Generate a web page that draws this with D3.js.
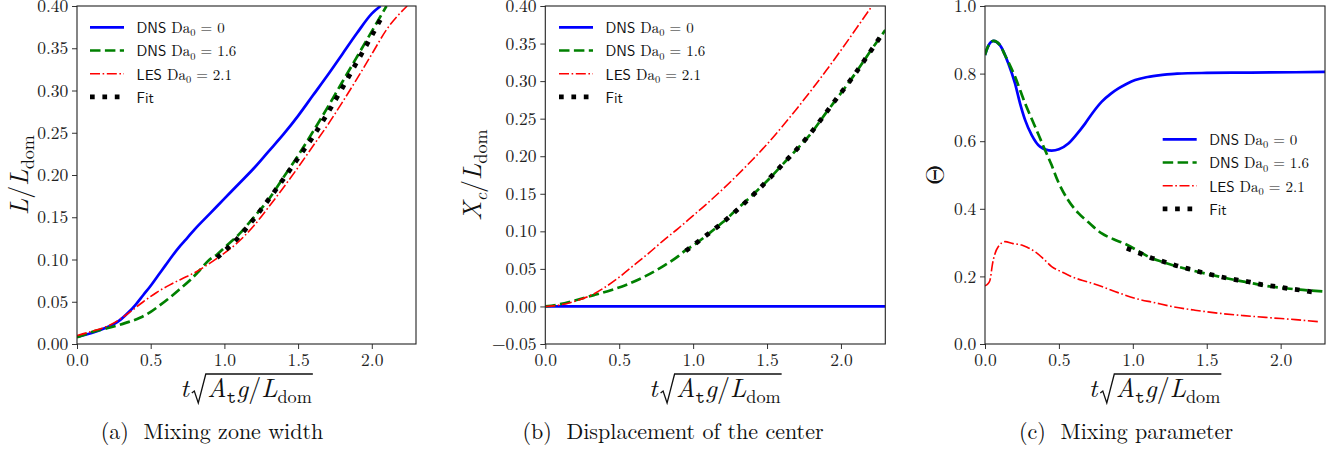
<!DOCTYPE html>
<html>
<head>
<meta charset="utf-8">
<script src="https://cdn.jsdelivr.net/npm/d3@7"></script>
<style>
  html, body { margin: 0; padding: 0; background: #fff; }
  svg { display: block; }
</style>
</head>
<body>
<svg id="fig" width="1338" height="449"></svg>
<script>
// ---- values ----
// time axis, t*sqrt(At g / Ldom)
const tTicks = [0, 0.5, 1.0, 1.5, 2.0];
const widthTicks = [0, 0.05, 0.10, 0.15, 0.20, 0.25, 0.30, 0.35, 0.40];
const centerTicks = [-0.05, 0, 0.05, 0.10, 0.15, 0.20, 0.25, 0.30, 0.35, 0.40];
const thetaTicks = [0, 0.2, 0.4, 0.6, 0.8, 1.0];

const seriesNames = ["DNS0", "DNS16", "LES21", "Fit"];
const captions = ["(a)  Mixing zone width", "(b)  Displacement of the center", "(c)  Mixing parameter"];

// (a) mixing zone width L/Ldom
const widthDns0 = [[0,0.0085],[0.1,0.013],[0.2,0.0195],[0.25,0.0235],[0.3,0.0295],[0.35,0.0375],[0.4,0.047],
  [0.45,0.058],[0.5,0.069],[0.55,0.081],[0.6,0.093],[0.65,0.105],[0.7,0.116],[0.75,0.126],[0.8,0.136],
  [0.9,0.154],[1.0,0.172],[1.1,0.190],[1.2,0.208],[1.3,0.228],[1.4,0.248],[1.5,0.270],[1.6,0.294],
  [1.7,0.318],[1.8,0.343],[1.9,0.368],[2.0,0.391],[2.06,0.40]];
const widthDns16 = [[0,0.008],[0.11,0.0146],[0.224,0.0195],[0.33,0.025],[0.427,0.031],[0.5,0.038],
  [0.563,0.046],[0.63,0.055],[0.698,0.065],[0.77,0.076],[0.834,0.0876],[0.9,0.100],[0.95,0.106],
  [1.0,0.114],[1.1,0.130],[1.2,0.150],[1.3,0.171],[1.4,0.197],[1.5,0.223],[1.6,0.251],[1.7,0.280],
  [1.8,0.310],[1.9,0.340],[2.0,0.370],[2.1,0.40]];
const widthLes21 = [[0,0.010],[0.1,0.015],[0.224,0.0225],[0.33,0.034],[0.45,0.050],[0.54,0.061],
  [0.63,0.070],[0.71,0.077],[0.789,0.0836],[0.87,0.092],[0.947,0.101],[1.083,0.119],[1.2,0.140],
  [1.3,0.162],[1.4,0.185],[1.5,0.209],[1.6,0.234],[1.7,0.259],[1.8,0.286],[1.9,0.314],[2.0,0.343],
  [2.1,0.372],[2.24,0.40]];
const widthFit = [[0.95,0.102],[1.0,0.110],[1.1,0.127],[1.2,0.148],[1.3,0.171],[1.4,0.195],[1.5,0.220],
  [1.6,0.245],[1.7,0.273],[1.8,0.303],[1.9,0.334],[2.0,0.365],[2.08,0.391]];

// (b) displacement of the center Xc/Ldom
const centerDns0 = [[0,0],[2.3,0]];
const centerDns16 = [[0,0],[0.1,0.003],[0.2,0.008],[0.336,0.0155],[0.449,0.022],[0.55,0.029],[0.674,0.040],
  [0.809,0.055],[0.9,0.067],[0.95,0.075],[1.0,0.081],[1.1,0.096],[1.2,0.112],[1.3,0.130],[1.4,0.148],
  [1.5,0.167],[1.6,0.188],[1.7,0.209],[1.8,0.231],[1.9,0.258],[2.0,0.284],[2.1,0.311],[2.2,0.340],[2.3,0.368]];
const centerLes21 = [[0,0],[0.1,0.002],[0.2,0.007],[0.3,0.014],[0.4,0.025],[0.5,0.039],[0.6,0.055],
  [0.7,0.071],[0.8,0.088],[0.9,0.104],[1.0,0.121],[1.1,0.138],[1.2,0.156],[1.3,0.175],[1.4,0.195],
  [1.5,0.216],[1.6,0.239],[1.7,0.263],[1.8,0.288],[1.9,0.314],[2.0,0.341],[2.1,0.369],[2.21,0.40]];
const centerFit = [[0.95,0.074],[1.02,0.0844],[1.226,0.116],[1.419,0.151],[1.60,0.188],[1.784,0.228],
  [1.937,0.268],[2.093,0.309],[2.239,0.351],[2.287,0.365]];

// (c) mixing parameter Theta
const thetaDns0 = [[0,0.855],[0.02,0.880],[0.056,0.897],[0.1,0.885],[0.158,0.830],[0.203,0.771],
  [0.237,0.712],[0.271,0.663],[0.316,0.618],[0.372,0.584],[0.451,0.572],[0.5,0.576],[0.564,0.593],
  [0.62,0.620],[0.677,0.652],[0.73,0.685],[0.79,0.717],[0.85,0.740],[0.903,0.756],[0.96,0.770],
  [1.016,0.781],[1.1,0.790],[1.2,0.796],[1.3,0.800],[1.5,0.802],[1.8,0.803],[2.1,0.804],[2.3,0.805]];
const thetaDns16 = [[0,0.855],[0.02,0.880],[0.06,0.897],[0.1,0.885],[0.135,0.855],[0.203,0.791],
  [0.271,0.712],[0.339,0.643],[0.406,0.574],[0.45,0.530],[0.49,0.485],[0.562,0.426],[0.632,0.387],
  [0.7,0.360],[0.79,0.327],[0.87,0.310],[0.948,0.296],[1.03,0.277],[1.106,0.258],[1.2,0.243],
  [1.286,0.231],[1.4,0.218],[1.535,0.204],[1.65,0.193],[1.805,0.180],[1.9,0.172],[2.031,0.165],
  [2.15,0.160],[2.3,0.155]];
const thetaLes21 = [[0,0.172],[0.02,0.178],[0.034,0.189],[0.05,0.235],[0.068,0.268],[0.09,0.288],
  [0.135,0.303],[0.19,0.297],[0.248,0.293],[0.29,0.285],[0.339,0.273],[0.4,0.250],[0.451,0.229],
  [0.52,0.213],[0.587,0.199],[0.7,0.183],[0.79,0.170],[0.9,0.152],[1.016,0.135],[1.15,0.122],
  [1.264,0.111],[1.42,0.100],[1.58,0.091],[1.75,0.084],[1.918,0.078],[2.1,0.072],[2.257,0.066]];
const thetaFit = [[0.959,0.283],[1.038,0.270],[1.117,0.256],[1.2,0.245],[1.286,0.233],[1.372,0.223],
  [1.456,0.213],[1.541,0.204],[1.625,0.196],[1.711,0.189],[1.794,0.183],[1.88,0.175],[1.968,0.170],
  [2.054,0.164],[2.139,0.159],[2.227,0.153]];

// ---- drawing ----
const svg = d3.select("#fig");
const serifFont = "'Latin Modern Roman','Liberation Serif',serif";
const sansFont = "'Latin Modern Sans','Liberation Sans',sans-serif";
const monoFont = "'Latin Modern Mono','Liberation Mono',monospace";

const plotTop = 6, plotBottom = 344, tMax = 2.3;

// line styles in legend order: blue solid, green dashed, red dash-dot, black dotted
const styles = [
  {color: "#0000ff", width: 2.7, dash: null},
  {color: "#008000", width: 2.7, dash: "10.5,4.4"},
  {color: "#ff0000", width: 1.6, dash: "10,2.6,1.6,2.6"},
  {color: "#000000", width: 4.7, dash: "4.7,7.7"}
];

// legend text pieces: sans "DNS"/"LES" + serif math
const legendParts = {
  DNS0:  [{t: "DNS ", fam: sansFont}, {t: "Da"}, {t: "0", sub: 1}, {t: " = 0"}],
  DNS16: [{t: "DNS ", fam: sansFont}, {t: "Da"}, {t: "0", sub: 1}, {t: " = 1.6"}],
  LES21: [{t: "LES ", fam: sansFont}, {t: "Da"}, {t: "0", sub: 1}, {t: " = 2.1"}],
  Fit:   [{t: "Fit", fam: sansFont}]
};

const panels = [
  {left: 77, right: 416, yDomain: [0, 0.40], yTicks: widthTicks, fmt: ".2f",
   series: [widthDns0, widthDns16, widthLes21, widthFit],
   legend: {x: 90, y: 27.3}, ylabX: 28, caption: 212,
   ylab: [{t: "L", it: 1}, {t: "/"}, {t: "L", it: 1}, {t: "dom", sub: 1}]},
  {left: 545.3, right: 885.3, yDomain: [-0.05, 0.40], yTicks: centerTicks, fmt: ".2f",
   series: [centerDns0, centerDns16, centerLes21, centerFit],
   legend: {x: 559, y: 27.3}, ylabX: 481, caption: 673,
   ylab: [{t: "X", it: 1}, {t: "c", it: 1, sub: 1}, {t: "/"}, {t: "L", it: 1}, {t: "dom", sub: 1}]},
  {left: 985, right: 1325, yDomain: [0, 1.0], yTicks: thetaTicks, fmt: ".1f",
   series: [thetaDns0, thetaDns16, thetaLes21, thetaFit],
   legend: {x: 1162.7, y: 139.3}, ylabX: 944, caption: 1126,
   ylab: [{t: "\u0398"}]}
];

// append tspans with subscripts to a text element
function runs(textSel, parts, size) {
  const subSize = size * 0.7;
  const drop = size * 0.22;
  let shift = 0;
  parts.forEach(p => {
    const ts = textSel.append("tspan").text(p.t)
      .style("font-size", (p.sub ? subSize : size) + "px")
      .style("font-family", p.fam || serifFont)
      .style("font-style", p.it ? "italic" : "normal");
    const want = p.sub ? drop : 0;
    if (want !== shift) ts.attr("dy", want - shift);
    shift = want;
  });
}

panels.forEach((p, pi) => {
  const x = d3.scaleLinear().domain([0, tMax]).range([p.left, p.right]);
  const y = d3.scaleLinear().domain(p.yDomain).range([plotBottom, plotTop]);
  const g = svg.append("g");

  g.append("clipPath").attr("id", "clip" + pi)
    .append("rect")
    .attr("x", p.left).attr("y", plotTop)
    .attr("width", p.right - p.left).attr("height", plotBottom - plotTop);

  // axes
  const xa = g.append("g").attr("transform", `translate(0,${plotBottom})`)
    .call(d3.axisBottom(x).tickValues(tTicks).tickFormat(d3.format(".1f"))
      .tickSize(5).tickPadding(5).tickSizeOuter(0));
  const ya = g.append("g").attr("transform", `translate(${p.left},0)`)
    .call(d3.axisLeft(y).tickValues(p.yTicks).tickFormat(d3.format(p.fmt))
      .tickSize(5).tickPadding(3.7).tickSizeOuter(0));
  [xa, ya].forEach(a => {
    a.select(".domain").remove();
    a.attr("font-family", null).attr("font-size", null);
    a.selectAll("line").attr("stroke", "#333");
    a.selectAll("text")
      .style("font-family", serifFont).style("font-size", "17.5px").attr("fill", "#222");
  });

  // curves
  const line = d3.line().x(d => x(d[0])).y(d => y(d[1])).curve(d3.curveMonotoneX);
  p.series.forEach((s, i) => {
    const st = styles[i];
    g.append("path").datum(s)
      .attr("clip-path", `url(#clip${pi})`)
      .attr("d", line)
      .attr("fill", "none")
      .attr("stroke", st.color)
      .attr("stroke-width", st.width)
      .attr("stroke-dasharray", st.dash);
  });

  // frame
  g.append("rect")
    .attr("x", p.left).attr("y", plotTop)
    .attr("width", p.right - p.left).attr("height", plotBottom - plotTop)
    .attr("fill", "none").attr("stroke", "#222").attr("stroke-width", 1.1);

  // legend
  seriesNames.forEach((name, i) => {
    const st = styles[i];
    const ly = p.legend.y + i * 23.2;
    g.append("line")
      .attr("x1", p.legend.x).attr("x2", p.legend.x + 34)
      .attr("y1", ly).attr("y2", ly)
      .attr("stroke", st.color).attr("stroke-width", st.width)
      .attr("stroke-dasharray", st.dash);
    const t = g.append("text")
      .attr("x", p.legend.x + 46.5).attr("y", ly + 5.8)
      .attr("fill", "#111").style("white-space", "pre");
    runs(t, legendParts[name], 15);
  });

  // y label
  const yl = g.append("text")
    .attr("transform", `translate(${p.ylabX},${(plotTop + plotBottom) / 2}) rotate(-90)`)
    .attr("text-anchor", "middle").attr("fill", "#111");
  runs(yl, p.ylab, 26);

  // x label  t sqrt(At g / Ldom)
  const xl = g.append("g");
  const t1 = xl.append("text").attr("x", 0).attr("y", 0).attr("fill", "#111");
  runs(t1, [{t: "t", it: 1}], 26);
  const w1 = t1.node().getComputedTextLength();
  const r0 = w1 + 3;
  const rad = xl.append("text").attr("x", r0 + 15.5).attr("y", 0).attr("fill", "#111");
  runs(rad, [{t: "A", it: 1}, {t: "t", sub: 1, fam: monoFont}, {t: "g", it: 1}, {t: "/"},
             {t: "L", it: 1}, {t: "dom", sub: 1}], 26);
  const w2 = rad.node().getComputedTextLength();
  xl.append("path")
    .attr("d", `M${r0},-4 L${r0 + 2.5},-6 L${r0 + 6.5},6 L${r0 + 14},-23 H${r0 + 16.5 + w2}`)
    .attr("fill", "none").attr("stroke", "#111").attr("stroke-width", 1.3)
    .attr("stroke-linejoin", "miter");
  const wTot = r0 + 16.5 + w2;
  xl.attr("transform", `translate(${(p.left + p.right) / 2 - wTot / 2},397)`);

  // caption
  g.append("text")
    .attr("x", p.caption).attr("y", 439)
    .attr("text-anchor", "middle")
    .style("font-family", serifFont).style("font-size", "22px")
    .attr("fill", "#111").style("white-space", "pre")
    .text(captions[pi]);
});
</script>
</body>
</html>
